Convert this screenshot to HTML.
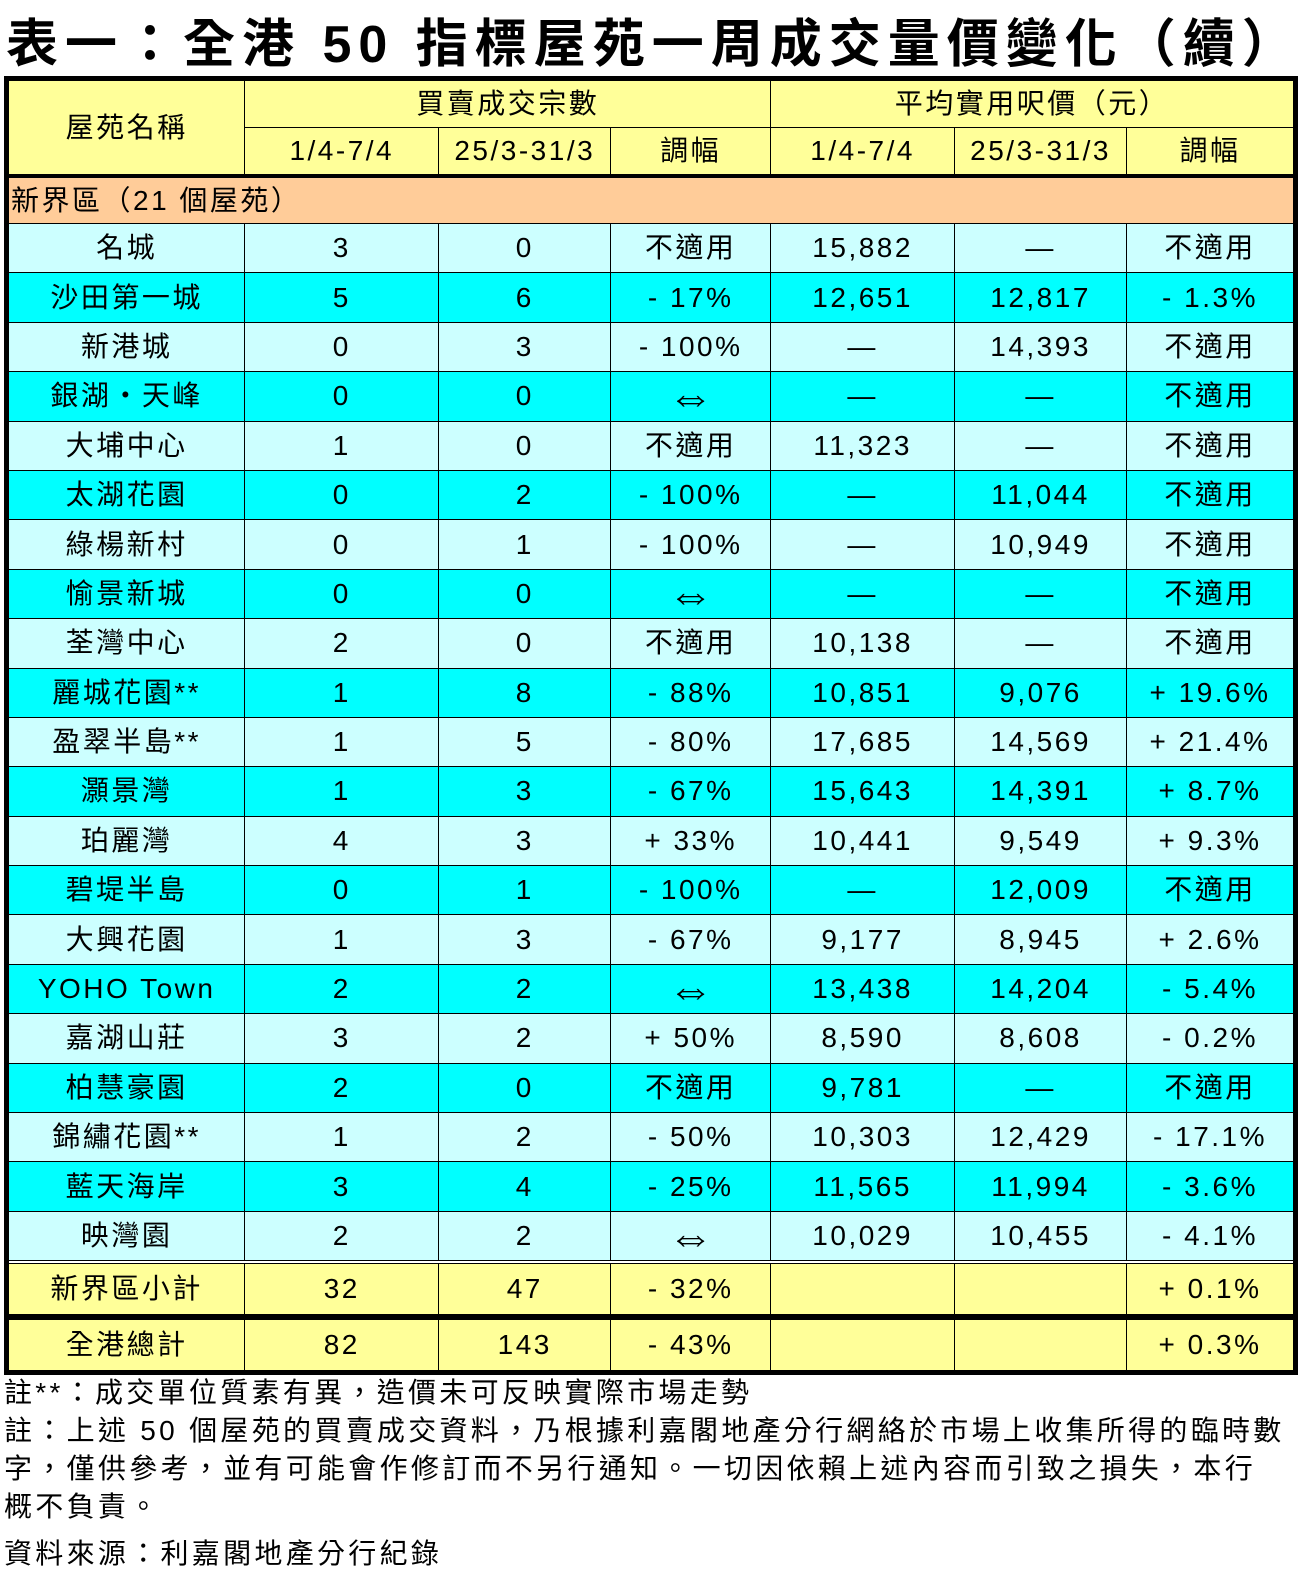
<!DOCTYPE html>
<html><head><meta charset="utf-8"><style>
body{margin:0;background:#fff;width:1298px;height:1579px;position:relative;overflow:hidden;font-family:"Liberation Sans","Noto Sans CJK TC",sans-serif;}
.title{position:absolute;left:6px;top:2px;font-size:52px;font-weight:bold;letter-spacing:7px;white-space:nowrap;font-family:"Liberation Sans","Noto Sans CJK TC",sans-serif;}
table{position:absolute;left:4px;top:76px;border-collapse:collapse;border:5px solid #000;table-layout:fixed;width:1294px;}
td{border:1.5px solid #000;text-align:center;font-size:28px;padding:0;line-height:1;white-space:nowrap;overflow:hidden;letter-spacing:2.5px;}
.h td{background:#ffff99;}
.sec td{background:#ffcc99;text-align:left;padding-left:2px;height:45px;border-top:4px solid #000;}
.a td{background:#ccffff;height:48.4px;}
.b td{background:#00ffff;height:48.4px;}
.ar{font-size:46px;letter-spacing:0}
.sub td{background:#ffff99;height:50px;border-top:4px double #000;}
.tot td{background:#ffff99;height:50px;border-top:6px solid #000;}
.note{position:absolute;left:4px;font-size:28px;white-space:nowrap;letter-spacing:3.3px;}
</style></head><body>
<div class="title">表一：全港 50 指標屋苑一周成交量價變化（續）</div>
<table>
<colgroup><col style="width:237px"><col style="width:193px"><col style="width:171px"><col style="width:159px"><col style="width:183px"><col style="width:171px"><col style="width:168px"></colgroup>
<tr class="h"><td rowspan="2">屋苑名稱</td><td colspan="3" style="height:46px">買賣成交宗數</td><td colspan="3">平均實用呎價（元）</td></tr>
<tr class="h"><td style="height:46px">1/4-7/4</td><td>25/3-31/3</td><td>調幅</td><td>1/4-7/4</td><td>25/3-31/3</td><td>調幅</td></tr>
<tr class="sec"><td colspan="7">新界區（21 個屋苑）</td></tr>
<tr class="a"><td>名城</td><td>3</td><td>0</td><td>不適用</td><td>15,882</td><td>—</td><td>不適用</td></tr>
<tr class="b"><td>沙田第一城</td><td>5</td><td>6</td><td>- 17%</td><td>12,651</td><td>12,817</td><td>- 1.3%</td></tr>
<tr class="a"><td>新港城</td><td>0</td><td>3</td><td>- 100%</td><td>—</td><td>14,393</td><td>不適用</td></tr>
<tr class="b"><td>銀湖・天峰</td><td>0</td><td>0</td><td class="ar">⇔</td><td>—</td><td>—</td><td>不適用</td></tr>
<tr class="a"><td>大埔中心</td><td>1</td><td>0</td><td>不適用</td><td>11,323</td><td>—</td><td>不適用</td></tr>
<tr class="b"><td>太湖花園</td><td>0</td><td>2</td><td>- 100%</td><td>—</td><td>11,044</td><td>不適用</td></tr>
<tr class="a"><td>綠楊新村</td><td>0</td><td>1</td><td>- 100%</td><td>—</td><td>10,949</td><td>不適用</td></tr>
<tr class="b"><td>愉景新城</td><td>0</td><td>0</td><td class="ar">⇔</td><td>—</td><td>—</td><td>不適用</td></tr>
<tr class="a"><td>荃灣中心</td><td>2</td><td>0</td><td>不適用</td><td>10,138</td><td>—</td><td>不適用</td></tr>
<tr class="b"><td>麗城花園**</td><td>1</td><td>8</td><td>- 88%</td><td>10,851</td><td>9,076</td><td>+ 19.6%</td></tr>
<tr class="a"><td>盈翠半島**</td><td>1</td><td>5</td><td>- 80%</td><td>17,685</td><td>14,569</td><td>+ 21.4%</td></tr>
<tr class="b"><td>灝景灣</td><td>1</td><td>3</td><td>- 67%</td><td>15,643</td><td>14,391</td><td>+ 8.7%</td></tr>
<tr class="a"><td>珀麗灣</td><td>4</td><td>3</td><td>+ 33%</td><td>10,441</td><td>9,549</td><td>+ 9.3%</td></tr>
<tr class="b"><td>碧堤半島</td><td>0</td><td>1</td><td>- 100%</td><td>—</td><td>12,009</td><td>不適用</td></tr>
<tr class="a"><td>大興花園</td><td>1</td><td>3</td><td>- 67%</td><td>9,177</td><td>8,945</td><td>+ 2.6%</td></tr>
<tr class="b"><td>YOHO Town</td><td>2</td><td>2</td><td class="ar">⇔</td><td>13,438</td><td>14,204</td><td>- 5.4%</td></tr>
<tr class="a"><td>嘉湖山莊</td><td>3</td><td>2</td><td>+ 50%</td><td>8,590</td><td>8,608</td><td>- 0.2%</td></tr>
<tr class="b"><td>柏慧豪園</td><td>2</td><td>0</td><td>不適用</td><td>9,781</td><td>—</td><td>不適用</td></tr>
<tr class="a"><td>錦繡花園**</td><td>1</td><td>2</td><td>- 50%</td><td>10,303</td><td>12,429</td><td>- 17.1%</td></tr>
<tr class="b"><td>藍天海岸</td><td>3</td><td>4</td><td>- 25%</td><td>11,565</td><td>11,994</td><td>- 3.6%</td></tr>
<tr class="a"><td>映灣園</td><td>2</td><td>2</td><td class="ar">⇔</td><td>10,029</td><td>10,455</td><td>- 4.1%</td></tr>
<tr class="sub"><td>新界區小計</td><td>32</td><td>47</td><td>- 32%</td><td></td><td></td><td>+ 0.1%</td></tr>
<tr class="tot"><td>全港總計</td><td>82</td><td>143</td><td>- 43%</td><td></td><td></td><td>+ 0.3%</td></tr>
</table>
<div class="note" style="top:1371px">註**：成交單位質素有異，造價未可反映實際市場走勢</div>
<div class="note" style="top:1409px">註：上述 50 個屋苑的買賣成交資料，乃根據利嘉閣地產分行網絡於市場上收集所得的臨時數</div>
<div class="note" style="top:1447px">字，僅供參考，並有可能會作修訂而不另行通知。一切因依賴上述內容而引致之損失，本行</div>
<div class="note" style="top:1485px">概不負責。</div>
<div class="note" style="top:1532px">資料來源：利嘉閣地產分行紀錄</div>
</body></html>
